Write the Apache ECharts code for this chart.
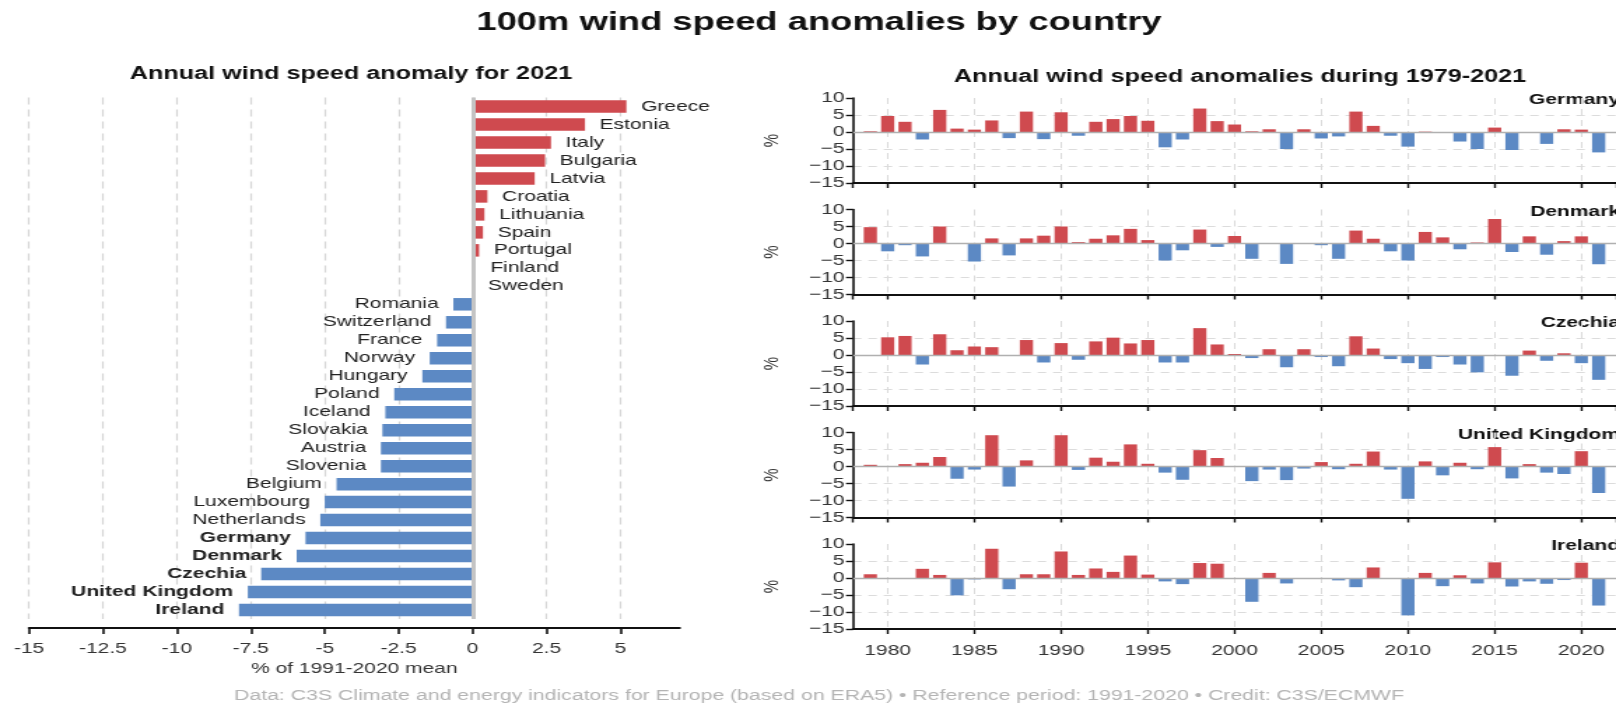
<!DOCTYPE html>
<html>
<head>
<meta charset="utf-8">
<script src="https://cdn.jsdelivr.net/npm/echarts@6/dist/echarts.min.js"></script>
<style>
html,body{margin:0;padding:0;background:#fff;}
#wrap{width:1616px;height:703px;overflow:hidden;position:relative;background:#fff;}
#chart{width:1155px;height:703px;transform:scaleX(1.3991342);transform-origin:0 0;}
</style>
</head>
<body>
<div id="wrap"><div id="chart"></div></div>
<script>
// ---------- DATA ----------
const leftCountries = ['Greece','Estonia','Italy','Bulgaria','Latvia','Croatia','Lithuania','Spain','Portugal','Finland','Sweden',
  'Romania','Switzerland','France','Norway','Hungary','Poland','Iceland','Slovakia','Austria','Slovenia',
  'Belgium','Luxembourg','Netherlands','Germany','Denmark','Czechia','United Kingdom','Ireland'];
const leftValues = [5.2, 3.8, 2.65, 2.45, 2.1, 0.5, 0.4, 0.35, 0.22, 0.1, 0.02,
  -0.65, -0.9, -1.2, -1.45, -1.7, -2.65, -2.95, -3.05, -3.1, -3.1,
  -4.6, -5.0, -5.15, -5.65, -5.95, -7.15, -7.6, -7.9];
const boldCountries = ['Germany','Denmark','Czechia','United Kingdom','Ireland'];
const leftTicks = ['-15','-12.5','-10','-7.5','-5','-2.5','0','2.5','5'];

const years = [1979,1980,1981,1982,1983,1984,1985,1986,1987,1988,1989,1990,1991,1992,1993,1994,1995,1996,1997,1998,
  1999,2000,2001,2002,2003,2004,2005,2006,2007,2008,2009,2010,2011,2012,2013,2014,2015,2016,2017,2018,2019,2020,2021];

const germany = [0.2,4.7,3.0,-2.2,6.5,1.0,0.7,3.4,-1.8,6.0,-2.1,5.8,-1.1,3.0,3.8,4.7,3.3,-4.5,-2.2,6.9,
  3.2,2.2,0.2,0.8,-5.0,0.8,-1.9,-1.3,6.0,1.8,-1.1,-4.3,0.1,0.0,-2.8,-5.0,1.3,-5.3,0.0,-3.5,0.8,0.7,-6.0];
const denmark = [4.8,-2.3,-0.5,-3.8,5.0,0.0,-5.3,1.5,-3.5,1.5,2.3,5.0,0.4,1.4,2.4,4.3,1.0,-5.0,-2.0,4.1,
  -1.0,2.2,-4.5,0.0,-6.0,0.0,-0.5,-4.5,3.8,1.4,-2.3,-5.0,3.4,1.8,-1.7,0.3,7.2,-2.5,2.1,-3.3,0.7,2.1,-6.1];
const czechia = [0.0,5.2,5.6,-2.8,6.1,1.4,2.5,2.3,0.0,4.4,-2.2,3.5,-1.4,4.0,5.1,3.4,4.4,-2.2,-2.2,7.9,
  3.1,0.3,-0.9,1.7,-3.6,1.7,-0.6,-3.3,5.5,1.9,-1.2,-2.4,-4.1,-0.6,-2.8,-5.1,0.0,-6.1,1.3,-1.7,0.5,-2.4,-7.3];
const unitedKingdom = [0.5,0.1,0.7,1.1,2.8,-3.6,-0.9,9.2,-5.9,1.8,0.0,9.2,-1.0,2.6,1.4,6.5,0.8,-1.8,-3.9,4.8,
  2.5,0.0,-4.3,-0.9,-4.0,-0.6,1.3,-0.8,0.8,4.4,-0.9,-9.5,1.5,-2.6,1.1,-0.8,5.7,-3.5,0.7,-1.8,-2.2,4.5,-7.8];
const ireland = [1.1,0.0,0.0,2.7,0.9,-5.1,-0.4,8.6,-3.3,1.1,1.1,7.8,0.9,2.8,1.8,6.6,1.0,-1.0,-1.8,4.4,
  4.2,0.0,-7.0,1.5,-1.6,0.0,-0.3,-0.7,-2.7,3.1,0.0,-11.0,1.5,-2.4,0.8,-1.6,4.6,-2.5,-1.0,-1.7,-0.6,4.5,-8.1];

const panelNames = ['Germany','Denmark','Czechia','United Kingdom','Ireland'];
const panelValues = [germany, denmark, czechia, unitedKingdom, ireland];

// ---------- STYLE / LAYOUT ----------
const SX = 1616 / 1155;           // horizontal stretch of the picture
const lx = x => x / SX;           // full-picture x -> chart x
const RED = '#cf4a4f';
const BLUE = '#5c89c4';
const FONT = 'Liberation Sans, Arial, Helvetica, sans-serif';
const panelTops = [98, 209.5, 321, 432.5, 544];
const panelH = 85;

const chart = echarts.init(document.getElementById('chart'), null, {renderer: 'canvas', width: 1155, height: 703});

const grids = [{left: lx(29), width: lx(650.6), top: 97.5, height: 521.5}];
const xAxes = [{
  gridIndex: 0, type: 'value', min: -15, max: 7, interval: 2.5, offset: 9,
  axisLine: {show: true, lineStyle: {color: '#111', width: 2}},
  axisTick: {show: true, length: 6, lineStyle: {color: '#111', width: 1.6}},
  axisLabel: {show: true, margin: 13, fontSize: 15, color: '#333', fontFamily: FONT, showMaxLabel: false,
    formatter: v => { const i = leftTicks.indexOf(String(v)); return i >= 0 ? leftTicks[i] : ''; }},
  splitLine: {show: true, showMaxLine: false, lineStyle: {color: '#d6d6d6', type: [7, 5], width: 1.2}},
  name: '% of 1991-2020 mean', nameLocation: 'middle', nameGap: 32,
  nameTextStyle: {fontSize: 15, color: '#333', fontFamily: FONT}
}];
const yAxes = [{
  gridIndex: 0, type: 'category', inverse: true, data: leftCountries,
  show: false
}];

const series = [{
  type: 'bar', xAxisIndex: 0, yAxisIndex: 0, barWidth: 12.5,
  data: leftValues.map((v, i) => ({
    value: v,
    itemStyle: {color: v >= 0 ? RED : BLUE},
    label: {
      position: v >= 0 ? 'right' : 'left',
      fontWeight: boldCountries.indexOf(leftCountries[i]) >= 0 ? 'bold' : 'normal'
    }
  })),
  label: {show: true, formatter: p => p.name, distance: 10.5, fontSize: 15, color: '#222', fontFamily: FONT},
  markLine: {silent: true, symbol: ['none', 'none'], label: {show: false},
    lineStyle: {color: '#c4c4c4', type: 'solid', width: 3}, data: [{xAxis: 0}]},
  z: 3
}];

const graphics = [];

panelNames.forEach((name, i) => {
  const gi = i + 1;
  const last = i === panelNames.length - 1;
  grids.push({left: lx(853), width: lx(44 * 17.55), top: panelTops[i], height: panelH});
  xAxes.push({
    gridIndex: gi, type: 'value', min: 1978, max: 2022, splitNumber: 9, minInterval: 5, maxInterval: 5,
    axisLine: {show: true, onZero: false, lineStyle: {color: '#111', width: 2}},
    axisTick: {show: true, length: 5, lineStyle: {color: '#111', width: 1.4}},
    axisLabel: {show: last, margin: 14, fontSize: 15, color: '#333', fontFamily: FONT,
      showMinLabel: false, showMaxLabel: false, formatter: v => String(v)},
    splitLine: {show: true, showMinLine: false, showMaxLine: false,
      lineStyle: {color: '#dcdcdc', type: [6, 5], width: 1}}
  });
  yAxes.push({
    gridIndex: gi, type: 'value', min: -15, max: 10, interval: 5,
    axisLine: {show: true, lineStyle: {color: '#111', width: 1.6}},
    axisTick: {show: true, length: 5, lineStyle: {color: '#111', width: 1.4}},
    axisLabel: {margin: 6, fontSize: 15, color: '#333', fontFamily: FONT,
      formatter: v => v < 0 ? '\u2212' + Math.abs(v) : String(v)},
    splitLine: {show: true, showMaxLine: false, lineStyle: {color: '#dcdcdc', type: [6, 5], width: 1}},
    name: '%', nameLocation: 'middle', nameRotate: 90, nameGap: 50,
    nameTextStyle: {fontSize: 15, color: '#333', fontFamily: FONT}
  });
  const vals = panelValues[i];
  series.push({
    type: 'bar', xAxisIndex: gi, yAxisIndex: gi, barWidth: 9.4,
    data: years.map((y, k) => [y, vals[k]]),
    itemStyle: {color: p => p.value[1] >= 0 ? RED : BLUE},
    markLine: {silent: true, symbol: ['none', 'none'], label: {show: false},
      lineStyle: {color: '#b0b0b0', type: 'solid', width: 1.3}, data: [{yAxis: 0}]}
  });
  graphics.push({
    type: 'text', x: lx(1620), y: panelTops[i] + 2,
    style: {text: name, textAlign: 'right', textVerticalAlign: 'middle',
      font: 'bold 15px ' + FONT, fill: '#111'}
  });
});

const option = {
  backgroundColor: '#fff',
  animation: false,
  title: [
    {text: '100m wind speed anomalies by country', left: lx(819), top: 10, textAlign: 'center', padding: 0,
      textStyle: {fontSize: 26, fontWeight: 'bold', color: '#111', fontFamily: FONT}},
    {text: 'Annual wind speed anomaly for 2021', left: lx(351), top: 65, textAlign: 'center', padding: 0,
      textStyle: {fontSize: 18, fontWeight: 'bold', color: '#111', fontFamily: FONT}},
    {text: 'Annual wind speed anomalies during 1979-2021', left: lx(1240), top: 68, textAlign: 'center', padding: 0,
      textStyle: {fontSize: 18, fontWeight: 'bold', color: '#111', fontFamily: FONT}},
    {text: 'Data: C3S Climate and energy indicators for Europe (based on ERA5) \u2022 Reference period: 1991-2020 \u2022 Credit: C3S/ECMWF',
      left: lx(819), top: 688, textAlign: 'center', padding: 0,
      textStyle: {fontSize: 15.2, fontWeight: 'normal', color: '#b4b4b4', fontFamily: FONT}}
  ],
  grid: grids,
  xAxis: xAxes,
  yAxis: yAxes,
  series: series,
  graphic: graphics
};
chart.setOption(option);
</script>
</body>
</html>
